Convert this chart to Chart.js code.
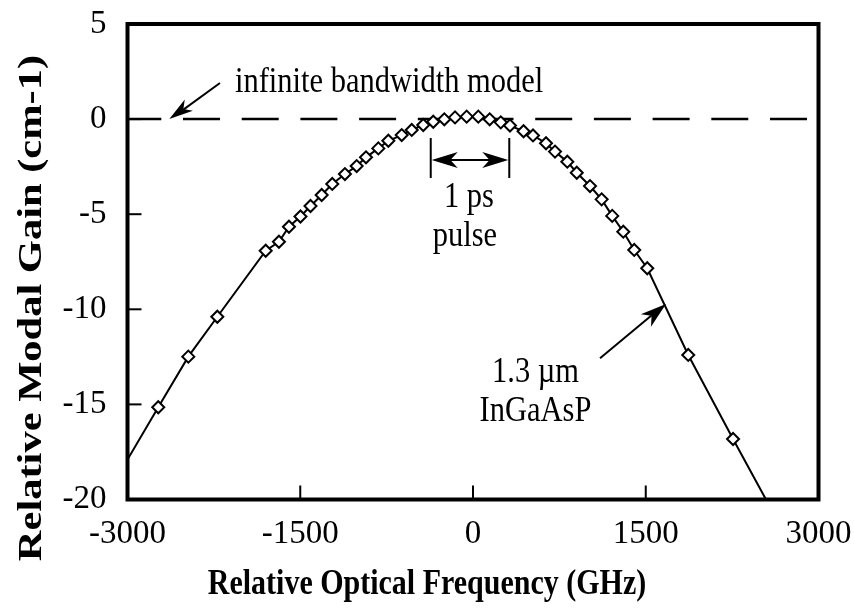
<!DOCTYPE html>
<html><head><meta charset="utf-8">
<script src="https://cdn.jsdelivr.net/npm/chart.js@4.4.0/dist/chart.umd.min.js"></script>
<style>html,body{margin:0;padding:0;background:#fff;}#wrap{width:854px;height:611px;}</style>
</head><body><div id="wrap"><canvas id="c" width="854" height="611"></canvas></div>
<script>
// ---- data ----
const freqGHz = [-2733,-2472,-2220,-1800,-1685,-1598,-1498,-1411,-1314,-1222,-1112,-1010,-929,-822,-735,-619,-532,-432,-345,-249,-156,-55,46,145,241,321,439,521,634,712,819,901,1016,1117,1209,1305,1400,1513,1869,2258];
const gainCm = [-15.15,-12.49,-10.39,-6.92,-6.45,-5.66,-5.12,-4.57,-3.99,-3.41,-2.89,-2.47,-2.01,-1.54,-1.14,-0.84,-0.57,-0.31,-0.14,-0.01,0.09,0.13,0.13,-0.01,-0.17,-0.34,-0.64,-0.86,-1.27,-1.71,-2.24,-2.82,-3.52,-4.22,-5.09,-5.92,-6.88,-7.84,-12.40,-16.82];
const curveStart = [-3000, -17.9];
const curveEnd = [2544, -20];
const modelFreq = [-3000, 3000];
const modelGain = [0, 0];
const xTickValues = [-3000, -1500, 0, 1500, 3000];
const yTickValues = [5, 0, -5, -10, -15, -20];

const lineFreq = [curveStart[0], ...freqGHz, curveEnd[0]];
const lineGain = [curveStart[1], ...gainCm, curveEnd[1]];
const toXY = (xs, ys) => xs.map((x, i) => ({x, y: ys[i]}));

const SERIF = "'Liberation Serif', 'Times New Roman', serif";
const AREA = {left: 127.5, top: 24, right: 818.5, bottom: 499.5};

function stretchedText(ctx, text, x, y, font, align, sy) {
  ctx.save();
  ctx.font = font;
  ctx.textAlign = align;
  ctx.textBaseline = 'alphabetic';
  ctx.fillStyle = '#000';
  ctx.translate(x, y);
  ctx.scale(1, sy);
  ctx.fillText(text, 0, 0);
  ctx.restore();
}
function arrowHead(ctx, tx, ty, fx, fy, len, half) {
  const a = Math.atan2(ty - fy, tx - fx);
  const c = Math.cos(a), s = Math.sin(a);
  const bx = tx - len * c, by = ty - len * s;
  const nx = tx - len * 0.72 * c, ny = ty - len * 0.72 * s;
  ctx.beginPath();
  ctx.moveTo(tx, ty);
  ctx.lineTo(bx + half * s, by - half * c);
  ctx.lineTo(nx, ny);
  ctx.lineTo(bx - half * s, by + half * c);
  ctx.closePath();
  ctx.fill();
}

const decor = {
  id: 'decor',
  afterDatasetsDraw(chart) {
    const {ctx, chartArea: ca, scales: {x, y}} = chart;
    const px = v => x.getPixelForValue(v), py = v => y.getPixelForValue(v);
    ctx.save();
    ctx.strokeStyle = '#000'; ctx.fillStyle = '#000';
    // tick marks (inward)
    ctx.lineWidth = 2;
    y.ticks.forEach(t => {
      if (t.value <= y.min || t.value >= y.max) return;
      const yy = py(t.value);
      ctx.beginPath(); ctx.moveTo(ca.left, yy); ctx.lineTo(ca.left + 14, yy); ctx.stroke();
    });
    x.ticks.forEach(t => {
      if (t.value <= x.min || t.value >= x.max) return;
      const xx = px(t.value);
      ctx.beginPath(); ctx.moveTo(xx, ca.bottom); ctx.lineTo(xx, ca.bottom - 14); ctx.stroke();
    });
    // frame
    ctx.lineWidth = 4;
    ctx.strokeRect(ca.left, ca.top, ca.right - ca.left, ca.bottom - ca.top);

    // annotation: infinite bandwidth model
    ctx.lineWidth = 2;
    const t1 = [px(-2637), py(0)], f1 = [px(-2197), py(1.9)];
    ctx.beginPath(); ctx.moveTo(f1[0], f1[1]); ctx.lineTo(t1[0] + 12, t1[1] - 8); ctx.stroke();
    arrowHead(ctx, t1[0], t1[1], f1[0], f1[1], 24, 7);
    stretchedText(ctx, 'infinite bandwidth model', px(-2067), py(1.42), `30.5px ${SERIF}`, 'left', 1.2);

    // pulse width marker
    const xl = px(-367), xr = px(315), yt = py(-0.99), yb = py(-3.10), ya = py(-2.15);
    ctx.beginPath(); ctx.moveTo(xl, yt); ctx.lineTo(xl, yb); ctx.moveTo(xr, yt); ctx.lineTo(xr, yb); ctx.stroke();
    ctx.beginPath(); ctx.moveTo(xl + 15, ya); ctx.lineTo(xr - 15, ya); ctx.stroke();
    arrowHead(ctx, xl + 1, ya, xr, ya, 26, 8);
    arrowHead(ctx, xr - 1, ya, xl, ya, 26, 8);
    stretchedText(ctx, '1 ps', px(-35), py(-4.63), `30.5px ${SERIF}`, 'center', 1.2);
    stretchedText(ctx, 'pulse', px(-70), py(-6.67), `30.5px ${SERIF}`, 'center', 1.2);

    // material label
    const t2 = [px(1676), py(-9.72)], f2 = [px(1103), py(-12.57)];
    ctx.beginPath(); ctx.moveTo(f2[0], f2[1]); ctx.lineTo(t2[0] - 14, t2[1] + 11); ctx.stroke();
    arrowHead(ctx, t2[0], t2[1], f2[0], f2[1], 26, 8);
    stretchedText(ctx, '1.3 µm', px(543), py(-13.82), `30.5px ${SERIF}`, 'center', 1.2);
    stretchedText(ctx, 'InGaAsP', px(543), py(-15.87), `30.5px ${SERIF}`, 'center', 1.2);

    // axis titles
    stretchedText(ctx, 'Relative Optical Frequency (GHz)', 427, 594, `bold 30px ${SERIF}`, 'center', 1.2);
    ctx.save();
    ctx.translate(41, 308);
    ctx.rotate(-Math.PI / 2);
    ctx.scale(1.25, 1);
    ctx.font = `bold 34px ${SERIF}`;
    ctx.textAlign = 'center'; ctx.textBaseline = 'alphabetic'; ctx.fillStyle = '#000';
    ctx.fillText('Relative Modal Gain (cm-1)', 0, 0);
    ctx.restore();
    ctx.restore();
  }
};

const chart = new Chart(document.getElementById('c'), {
  type: 'scatter',
  data: {
    datasets: [
      {
        label: 'infinite bandwidth model',
        data: toXY(modelFreq, modelGain),
        showLine: true, borderColor: '#000', borderWidth: 2.5,
        borderDash: [37, 21.7], borderDashOffset: 3.2,
        pointRadius: 0, order: 3
      },
      {
        label: '1.3 µm InGaAsP (line)',
        data: toXY(lineFreq, lineGain),
        showLine: true, borderColor: '#000', borderWidth: 2,
        pointRadius: 0, tension: 0, order: 2
      },
      {
        label: '1.3 µm InGaAsP',
        data: toXY(freqGHz, gainCm),
        showLine: false, pointStyle: 'rectRot', pointRadius: 6,
        pointBackgroundColor: '#fff', pointBorderColor: '#000', pointBorderWidth: 2,
        order: 1
      }
    ]
  },
  options: {
    responsive: false, animation: false, devicePixelRatio: 1,
    layout: {padding: {top: AREA.top, right: 854 - AREA.right, left: 0, bottom: 0}},
    plugins: {legend: {display: false}, tooltip: {enabled: false}},
    scales: {
      x: {
        type: 'linear', min: -3000, max: 3000,
        afterBuildTicks: s => { s.ticks = xTickValues.map(v => ({value: v})); },
        afterFit: s => { s.height = 611 - AREA.bottom; s.paddingLeft = 0; s.paddingRight = 0; },
        grid: {display: false, drawTicks: false}, border: {display: false},
        ticks: {color: '#000', font: {family: SERIF, size: 33}, padding: 15, maxRotation: 0, autoSkip: false,
                callback: v => String(v)}
      },
      y: {
        type: 'linear', min: -20, max: 5,
        afterBuildTicks: s => { s.ticks = yTickValues.map(v => ({value: v})); },
        afterFit: s => { s.width = AREA.left; s.paddingTop = 0; s.paddingBottom = 0; },
        grid: {display: false, drawTicks: false}, border: {display: false},
        ticks: {color: '#000', font: {family: SERIF, size: 33}, padding: 21, autoSkip: false,
                callback: v => String(v)}
      }
    }
  },
  plugins: [decor]
});
// make sure the plot area lands where the reference has it
for (let i = 0; i < 3; i++) {
  const ca = chart.chartArea, p = chart.options.layout.padding;
  const dt = AREA.top - ca.top, dr = ca.right - AREA.right, dl = AREA.left - ca.left, db = ca.bottom - AREA.bottom;
  if (Math.abs(dt) + Math.abs(dr) + Math.abs(dl) + Math.abs(db) < 0.1) break;
  p.top += dt; p.right += dr; p.left += dl; p.bottom += db;
  chart.update();
}
</script>
</body></html>
